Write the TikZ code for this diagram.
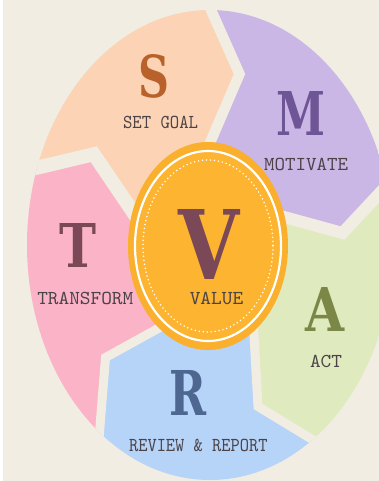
\documentclass[tikz,border=0pt]{standalone}
\usepackage{graphicx}
\usepackage{fontspec}
\newfontfamily\bigfont{DejaVu Serif}
\definecolor{bg}{HTML}{F1EDE2}
\definecolor{peach}{HTML}{FCD3B4}
\definecolor{purp}{HTML}{CBB7E5}
\definecolor{green}{HTML}{E0EABF}
\definecolor{blue}{HTML}{B6D3F8}
\definecolor{pink}{HTML}{FBB3C8}
\definecolor{orout}{HTML}{FAAF2D}
\definecolor{orin}{HTML}{FDB431}
\definecolor{cS}{HTML}{B8612A}
\definecolor{cM}{HTML}{6E5596}
\definecolor{cT}{HTML}{7A4856}
\definecolor{cA}{HTML}{7A8747}
\definecolor{cR}{HTML}{4E6791}
\definecolor{lab}{HTML}{4B4347}
\begin{document}
\begin{tikzpicture}[x=1pt,y=-1pt,
  gapline/.style={draw=bg, line join=miter, miter limit=20},
  lbl/.style={inner sep=0pt, text=lab},
  bigletter/.style={inner sep=0pt}]
\useasboundingbox (0,0) rectangle (379,481);
\fill[white] (0,0) rectangle (379,481);
\fill[bg] (3,0) rectangle (379,481);
\begin{scope}
\clip (210,245) ellipse [x radius=183, y radius=235];
% segments
\fill[peach] (208,246) -- (202.6,160) -- (239.5,74) -- (211,10) -- (197.6,-20) -- (-50,-50) -- (-50,188) -- (0,176.5) -- (35.8,168) -- (93.8,154.2) -- (133.3,212.5) -- (150,237) -- cycle;
\fill[purp] (208,246) -- (202.6,160) -- (239.5,74) -- (211,10) -- (197.6,-20) -- (450,-50) -- (450,120) -- (420,150) -- (379,194) -- (342.5,233) -- (250,207.7) -- cycle;
\fill[green] (208,246) -- (250,207.7) -- (342.5,233) -- (379,194) -- (420,150) -- (450,150) -- (450,520) -- (420,505) -- (311.5,439) -- (258,406.5) -- (252.6,310) -- cycle;
\fill[blue] (208,246) -- (252.6,310) -- (258,406.5) -- (311.5,439) -- (420,505) -- (420,530) -- (94,530) -- (96,477) -- (99.5,432.5) -- (105.5,357.5) -- (180,316.4) -- cycle;
\fill[pink] (208,246) -- (180,316.4) -- (105.5,357.5) -- (99.5,432.5) -- (96,477) -- (94,530) -- (-50,530) -- (-50,188) -- (0,176.5) -- (35.8,168) -- (93.8,154.2) -- (133.3,212.5) -- (150,237) -- cycle;
% gaps
\draw[gapline, line width=10.5pt] (202.6,160) -- (239.5,74) -- (211,10) -- (197.6,-20);
\draw[gapline, line width=12pt] (250,207.7) -- (342.5,233) -- (379,194) -- (420,150);
\draw[gapline, line width=9pt] (252.6,310) -- (258,406.5) -- (311.5,439) -- (360,468.5);
\draw[gapline, line width=9pt] (180,316.4) -- (105.5,357.5) -- (99.5,432.5) -- (96,477);
\draw[gapline, line width=14pt] (150,237) -- (133.3,212.5) -- (93.8,154.2) -- (35.8,168) -- (0,176.5);
\end{scope}
% central value badge
\fill[orout] (208,246) ellipse [x radius=80, y radius=104];
\fill[orin] (208,246) ellipse [x radius=73, y radius=95];
\draw[white, line width=2.2pt] (208,246) ellipse [x radius=73, y radius=95];
\draw[white, line width=1.7pt, line cap=round, dash pattern=on 0pt off 4pt] (208,246) ellipse [x radius=65, y radius=86];
% big letters
\node[bigletter] (S) at (153.5,76.5) {\resizebox{31pt}{43pt}{\bigfont\bfseries\color{cS}S}};
\node[bigletter] (M) at (301.5,113) {\resizebox{49pt}{44pt}{\bigfont\bfseries\color{cM}M}};
\node[bigletter] (T) at (77.5,245) {\resizebox{37pt}{44pt}{\bigfont\bfseries\color{cT}T}};
\node[bigletter] (V) at (209.5,244) {\resizebox{61pt}{70pt}{\bigfont\bfseries\color{cT}V}};
\node[bigletter] (A) at (324.5,309) {\resizebox{39pt}{44pt}{\bigfont\bfseries\color{cA}A}};
\node[bigletter] (R) at (188.5,392.5) {\resizebox{37pt}{45pt}{\bigfont\bfseries\color{cR}R}};
% labels
\node[lbl] (lS) at (160.5,122) {\resizebox{75pt}{12.3pt}{\ttfamily SET GOAL}};
\node[lbl] (lM) at (306,164.5) {\resizebox{84pt}{12.3pt}{\ttfamily MOTIVATE}};
\node[lbl] (lT) at (85.3,298.3) {\resizebox{96pt}{12.3pt}{\ttfamily TRANSFORM}};
\node[lbl] (lV) at (216.5,298) {\resizebox{53.5pt}{12.3pt}{\ttfamily VALUE}};
\node[lbl] (lA) at (326,361) {\resizebox{32pt}{12.3pt}{\ttfamily ACT}};
\node[lbl] (lR) at (198.3,445.3) {\resizebox{138.5pt}{12.3pt}{\ttfamily REVIEW \& REPORT}};
\end{tikzpicture}
\end{document}
